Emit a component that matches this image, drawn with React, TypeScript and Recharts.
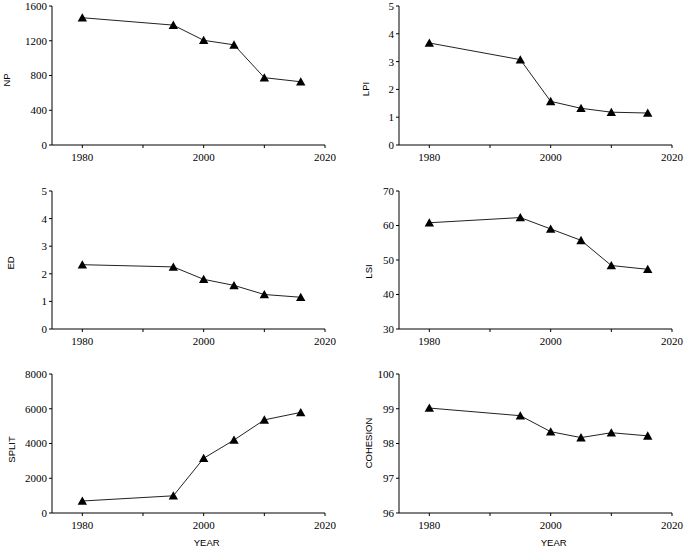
import { Label, Line, LineChart, XAxis, YAxis } from "recharts";

const YEARS = [1980, 1995, 2000, 2005, 2010, 2016];
const NP = [1465, 1380, 1205, 1153, 775, 728];
const LPI = [3.67, 3.07, 1.57, 1.32, 1.18, 1.15];
const ED = [2.33, 2.25, 1.8, 1.58, 1.25, 1.15];
const LSI = [60.8, 62.3, 59.0, 55.7, 48.4, 47.3];
const SPLIT = [690, 990, 3150, 4200, 5360, 5790];
const COHESION = [99.02, 98.8, 98.34, 98.17, 98.31, 98.22];

const X_TICKS = [1980, 1990, 2000, 2010, 2020];
const X_LABELED = [1980, 2000, 2020];

const SERIF = "'Liberation Serif', 'Times New Roman', serif";
const SANS = "'Liberation Sans', Arial, sans-serif";

interface PanelProps {
	name: string;
	values: number[];
	yDomain: [number, number];
	yTicks: number[];
	left: number;
	top: number;
	width: number;
	height: number;
	yAxisWidth: number;
	margin: { top: number; right: number; bottom: number; left: number };
	labelX: number;
	labelY: number;
	showYear?: boolean;
}

function Triangle(props: any) {
	const { cx, cy } = props;
	if (cx == null || cy == null) return null;
	return (
		<path
			d={`M${cx},${cy - 4.5} L${cx + 4.7},${cy + 3.8} L${cx - 4.7},${cy + 3.8} Z`}
			fill="#000"
		/>
	);
}

function XTick(props: any) {
	const { x, y, payload } = props;
	const v = payload?.value;
	if (!X_LABELED.includes(v)) return null;
	return (
		<text
			x={x}
			y={y}
			dy="0.71em"
			textAnchor="middle"
			fontFamily={SERIF}
			fontSize={11}
			fill="#000"
		>
			{v}
		</text>
	);
}

function YTick(props: any) {
	const { x, y, payload } = props;
	return (
		<text
			x={x}
			y={y}
			dy="0.355em"
			textAnchor="end"
			fontFamily={SERIF}
			fontSize={11}
			fill="#000"
		>
			{payload?.value}
		</text>
	);
}

function Panel({
	name,
	values,
	yDomain,
	yTicks,
	left,
	top,
	width,
	height,
	yAxisWidth,
	margin,
	labelX,
	labelY,
	showYear,
}: PanelProps) {
	const data = YEARS.map((year, i) => ({ year, value: values[i] }));
	return (
		<div style={{ position: "absolute", left, top }}>
			<LineChart width={width} height={height} data={data} margin={margin}>
				<XAxis
					dataKey="year"
					type="number"
					domain={[1975, 2020]}
					ticks={X_TICKS}
					tick={<XTick />}
					axisLine={{ stroke: "#000" }}
					tickLine={{ stroke: "#000" }}
					tickSize={3}
					tickMargin={5}
					height={30}
					interval={0}
				>
					{showYear && (
						<Label
							content={(p: any) => {
								const vb = p.viewBox || {};
								const x = vb.x + ((2000.5 - 1975) / 45) * vb.width;
								return (
									<text
										x={x}
										y={vb.y + 33}
										textAnchor="middle"
										fontFamily={SANS}
										fontSize={9.5}
										fill="#000"
									>
										YEAR
									</text>
								);
							}}
						/>
					)}
				</XAxis>
				<YAxis
					type="number"
					domain={yDomain}
					ticks={yTicks}
					width={yAxisWidth}
					tick={<YTick />}
					axisLine={{ stroke: "#000" }}
					tickLine={{ stroke: "#000" }}
					tickSize={3}
					tickMargin={2}
					interval={0}
				>
					<Label
						content={() => (
							<text
								x={labelX}
								y={labelY}
								transform={`rotate(-90, ${labelX}, ${labelY})`}
								textAnchor="middle"
								dominantBaseline="central"
								fontFamily={SANS}
								fontSize={9.5}
								fill="#000"
							>
								{name}
							</text>
						)}
					/>
				</YAxis>
				<Line
					type="linear"
					dataKey="value"
					stroke="#222"
					strokeWidth={1}
					dot={<Triangle />}
					activeDot={false}
					isAnimationActive={false}
				/>
			</LineChart>
		</div>
	);
}

export default function App() {
	return (
		<div
			style={{
				position: "absolute",
				left: 0,
				top: 0,
				width: 685,
				height: 547,
				background: "#fff",
				overflow: "hidden",
			}}
		>
			<Panel
				name="NP"
				values={NP}
				yDomain={[0, 1600]}
				yTicks={[0, 400, 800, 1200, 1600]}
				left={0}
				top={0}
				width={340}
				height={180}
				yAxisWidth={52}
				margin={{ top: 6, right: 15, bottom: 5, left: 0 }}
				labelX={6.5}
				labelY={80}
			/>
			<Panel
				name="LPI"
				values={LPI}
				yDomain={[0, 5]}
				yTicks={[0, 1, 2, 3, 4, 5]}
				left={340}
				top={0}
				width={345}
				height={180}
				yAxisWidth={59}
				margin={{ top: 6, right: 13, bottom: 5, left: 0 }}
				labelX={25.5}
				labelY={89}
			/>
			<Panel
				name="ED"
				values={ED}
				yDomain={[0, 5]}
				yTicks={[0, 1, 2, 3, 4, 5]}
				left={0}
				top={180}
				width={340}
				height={180}
				yAxisWidth={52}
				margin={{ top: 11, right: 15, bottom: 1, left: 0 }}
				labelX={10.7}
				labelY={83}
			/>
			<Panel
				name="LSI"
				values={LSI}
				yDomain={[30, 70]}
				yTicks={[30, 40, 50, 60, 70]}
				left={340}
				top={180}
				width={345}
				height={180}
				yAxisWidth={59}
				margin={{ top: 11, right: 13, bottom: 1, left: 0 }}
				labelX={28.3}
				labelY={91.5}
			/>
			<Panel
				name="SPLIT"
				values={SPLIT}
				yDomain={[0, 8000]}
				yTicks={[0, 2000, 4000, 6000, 8000]}
				left={0}
				top={360}
				width={340}
				height={187}
				yAxisWidth={52}
				margin={{ top: 14, right: 15, bottom: 4, left: 0 }}
				labelX={11.2}
				labelY={89.5}
				showYear
			/>
			<Panel
				name="COHESION"
				values={COHESION}
				yDomain={[96, 100]}
				yTicks={[96, 97, 98, 99, 100]}
				left={340}
				top={360}
				width={345}
				height={187}
				yAxisWidth={59}
				margin={{ top: 14, right: 13, bottom: 4, left: 0 }}
				labelX={28.5}
				labelY={83}
				showYear
			/>
		</div>
	);
}
